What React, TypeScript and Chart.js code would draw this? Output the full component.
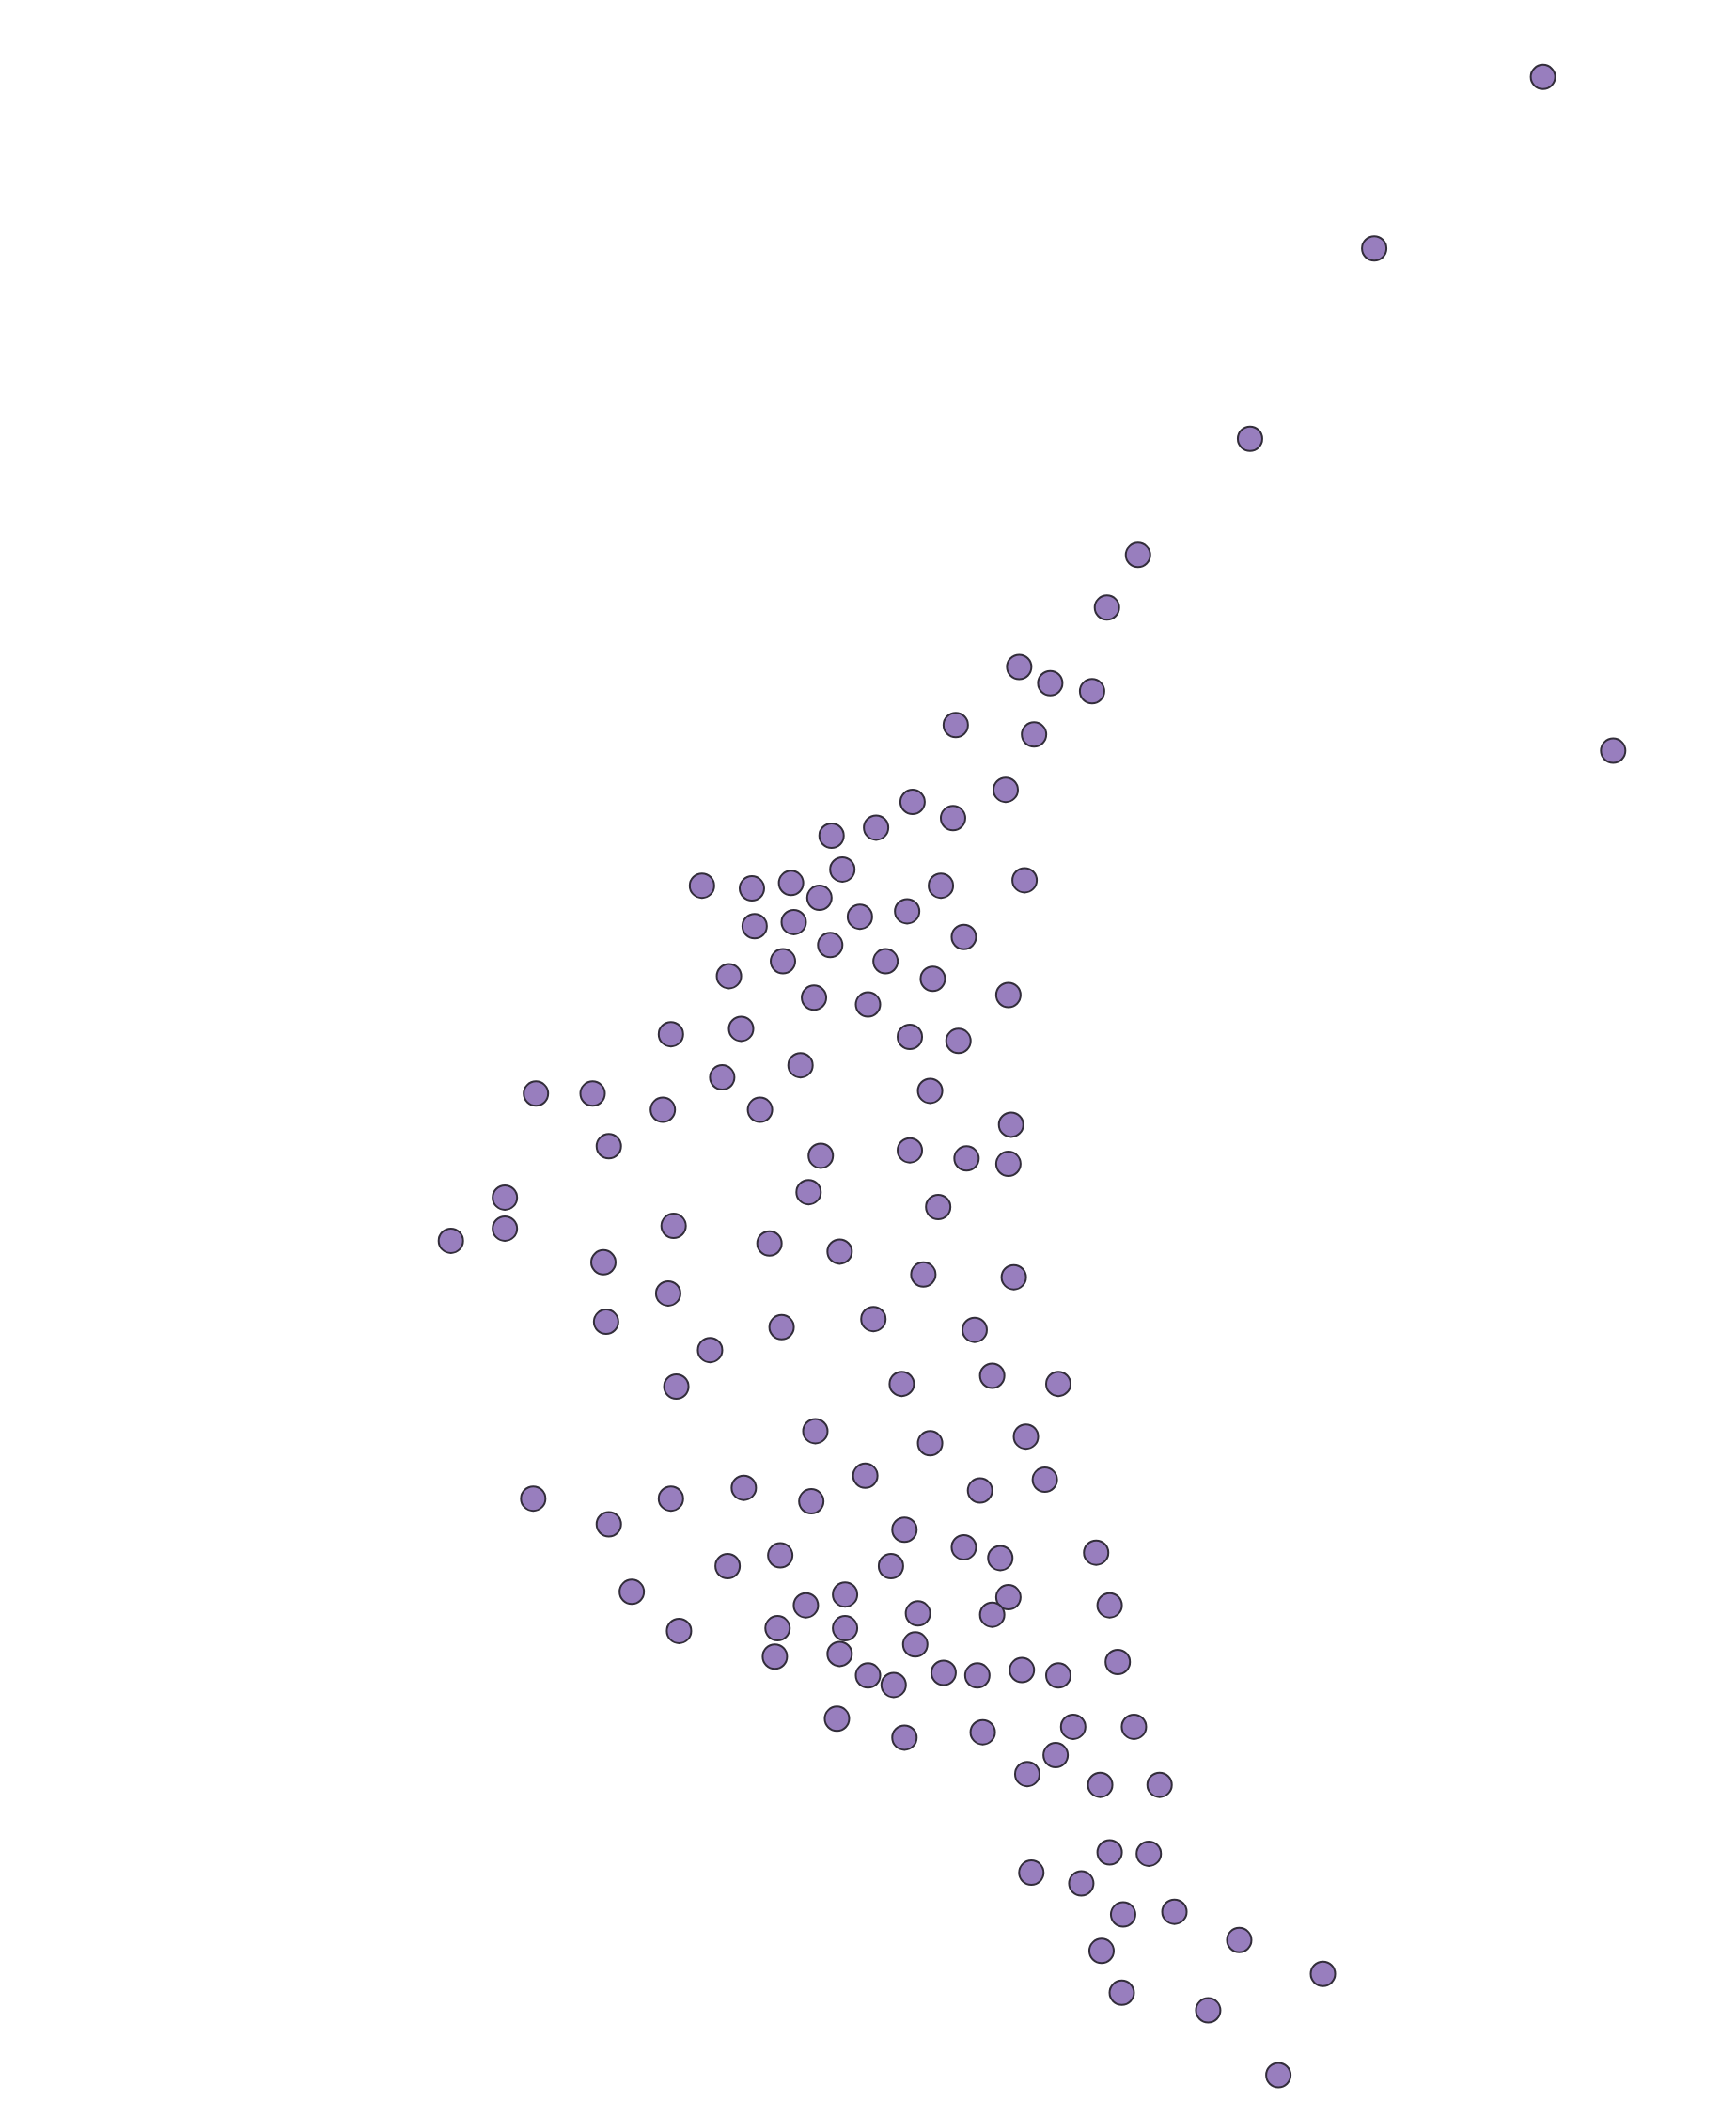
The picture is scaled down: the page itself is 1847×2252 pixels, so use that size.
import React, { useEffect, useRef } from "react";
import { Chart, registerables } from "chart.js";

Chart.register(...registerables);

const xValues: number[] = [
  1143, 1018, 926, 843, 820, 755, 778, 809, 708, 766, 1195, 745, 676, 706, 649, 616, 624, 520, 557, 586,
  607, 697, 759, 559, 588, 637, 672, 615, 714, 540, 580, 656, 691, 603, 643, 747, 497, 549, 674, 710,
  593, 535, 397, 439, 491, 563, 689, 749, 451, 608, 674, 716, 747, 374, 599, 695, 334, 374, 499, 570,
  622, 447, 684, 751, 495, 449, 579, 647, 722, 526, 501, 668, 735, 784, 604, 689, 760, 395, 497, 551,
  601, 641, 726, 774, 451, 670, 714, 741, 812, 539, 578, 660, 468, 597, 626, 680, 747, 735, 822, 503,
  576, 626, 678, 574, 622, 828, 643, 662, 699, 724, 757, 784, 620, 670, 728, 795, 840, 782, 761, 815,
  859, 822, 851, 764, 801, 832, 870, 918, 816, 980, 831, 895, 947,
];

const yValues: number[] = [
  57, 184, 325, 411, 450, 494, 506, 512, 537, 544, 556, 585, 594, 606, 613, 619, 644, 656, 658, 654,
  665, 656, 652, 686, 683, 679, 675, 700, 694, 723, 712, 712, 725, 739, 744, 737, 766, 762, 768, 771,
  789, 798, 810, 810, 822, 822, 808, 833, 849, 856, 852, 858, 862, 887, 883, 894, 919, 910, 908, 921,
  927, 935, 944, 946, 958, 979, 983, 977, 985, 1000, 1027, 1025, 1019, 1025, 1060, 1069, 1064, 1110, 1110, 1102,
  1112, 1093, 1104, 1096, 1129, 1133, 1146, 1154, 1150, 1160, 1152, 1160, 1179, 1189, 1181, 1195, 1183, 1196, 1189, 1208,
  1206, 1206, 1218, 1227, 1225, 1231, 1241, 1248, 1239, 1241, 1237, 1241, 1273, 1287, 1283, 1279, 1279, 1300, 1314, 1322,
  1322, 1372, 1373, 1387, 1395, 1418, 1416, 1437, 1445, 1462, 1476, 1489, 1537,
];

const X_MIN = 0;
const X_MAX = 1286;
const Y_MIN = 0;
const Y_MAX = 1568;

const WIDTH = 1847;
const HEIGHT = 2252;

export default function App() {
  const canvasRef = useRef<HTMLCanvasElement | null>(null);

  useEffect(() => {
    const canvas = canvasRef.current;
    if (!canvas) return;
    const points = xValues.map((x, i) => ({ x, y: yValues[i] }));
    const chart = new Chart(canvas, {
      type: "scatter",
      data: {
        datasets: [
          {
            data: points,
            backgroundColor: "rgb(152,126,190)",
            borderColor: "rgb(50,45,58)",
            borderWidth: 2,
            pointRadius: 13,
            pointHoverRadius: 13,
            clip: false,
          },
        ],
      },
      options: {
        responsive: false,
        animation: false,
        maintainAspectRatio: false,
        layout: { padding: 0, autoPadding: false },
        plugins: {
          legend: { display: false },
          tooltip: { enabled: false },
          title: { display: false },
        },
        scales: {
          x: { type: "linear", display: false, min: X_MIN, max: X_MAX },
          y: { type: "linear", display: false, min: Y_MIN, max: Y_MAX, reverse: true },
        },
      },
    });
    return () => chart.destroy();
  }, []);

  return (
    <div style={{ position: "absolute", left: 0, top: 0, width: WIDTH, height: HEIGHT, background: "#ffffff" }}>
      <canvas ref={canvasRef} width={WIDTH} height={HEIGHT} style={{ width: WIDTH, height: HEIGHT, display: "block" }} />
    </div>
  );
}
